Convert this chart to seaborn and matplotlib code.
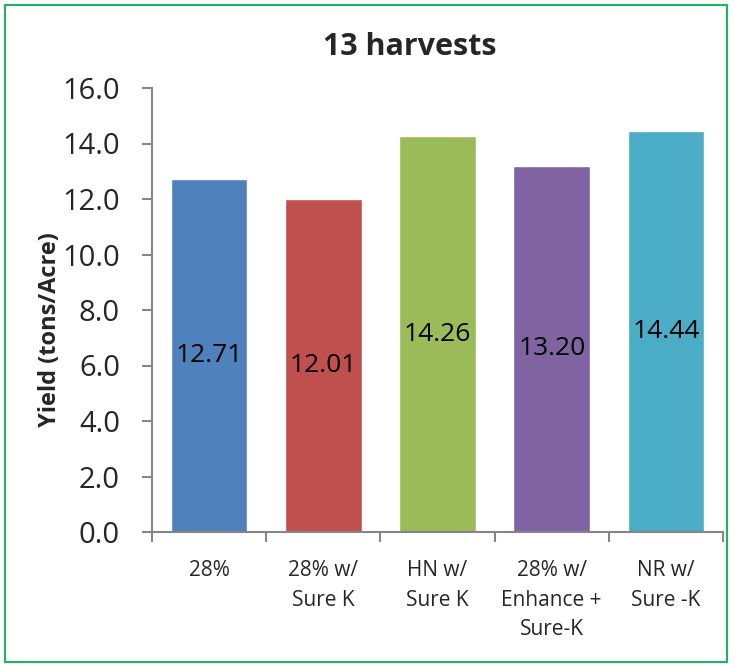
import matplotlib

matplotlib.use("Agg")

import matplotlib.pyplot as plt
import pandas as pd
import seaborn as sns
from matplotlib.patches import Rectangle

# Treatments and yields
categories = ["28%", "28% w/\nSure K", "HN w/\nSure K", "28% w/\nEnhance +\nSure-K", "NR w/\nSure -K"]
yields = [12.71, 12.01, 14.26, 13.20, 14.44]
bar_colors = ["#4F81BD", "#C0504D", "#9BBB59", "#8064A2", "#4BACC6"]
y_ticks = [0, 2, 4, 6, 8, 10, 12, 14, 16]


def main() -> None:
    sns.set_theme(style="white")
    plt.rcParams["font.family"] = ["Open Sans", "DejaVu Sans"]

    df = pd.DataFrame({"treatment": categories, "yield": yields})

    fig = plt.figure(figsize=(7.35, 6.64), dpi=100)
    ax = fig.add_axes([152 / 735, 1 - 532 / 664, (723 - 152) / 735, (532 - 88) / 664])

    sns.barplot(
        data=df,
        x="treatment",
        y="yield",
        hue="treatment",
        palette=bar_colors,
        width=0.67,
        legend=False,
        saturation=1,
        ax=ax,
    )

    # Excel-style centred data labels
    for i, v in enumerate(yields):
        ax.text(i, v / 2, f"{v:.2f}", ha="center", va="center", fontsize=19, color="black")

    ax.set_ylim(0, 16)
    ax.set_xlim(-0.5, len(categories) - 0.5)
    ax.set_yticks(y_ticks)
    ax.set_yticklabels([f"{t:.1f}" for t in y_ticks], fontsize=21)
    ax.set_xticks([i - 0.5 for i in range(len(categories) + 1)])
    ax.set_xticklabels([])
    for i, lab in enumerate(categories):
        ax.text(i, -1.0, lab, ha="center", va="top", fontsize=15, linespacing=1.55)

    ax.set_xlabel("")
    ax.set_ylabel("Yield (tons/Acre)", fontsize=17, fontweight="bold")
    ax.yaxis.set_label_coords(-0.158, 0.455)
    fig.text(410 / 735, 1 - 47 / 664, "13 harvests", ha="center", va="center",
             fontsize=22, fontweight="bold")

    for side in ["top", "right"]:
        ax.spines[side].set_visible(False)
    for side in ["left", "bottom"]:
        ax.spines[side].set_color("#868686")
        ax.spines[side].set_linewidth(1.5)
    ax.tick_params(axis="both", direction="out", length=7, width=1.5, color="#868686", left=True, bottom=True)
    ax.tick_params(axis="y", pad=16)

    fig.patches.append(
        Rectangle((5 / 735, 2 / 664), 722 / 735, 657 / 664, transform=fig.transFigure,
                  fill=False, edgecolor="#23B25F", linewidth=1.5)
    )

    fig.savefig("out.png", dpi=100)
    plt.close(fig)


if __name__ == "__main__":
    main()
